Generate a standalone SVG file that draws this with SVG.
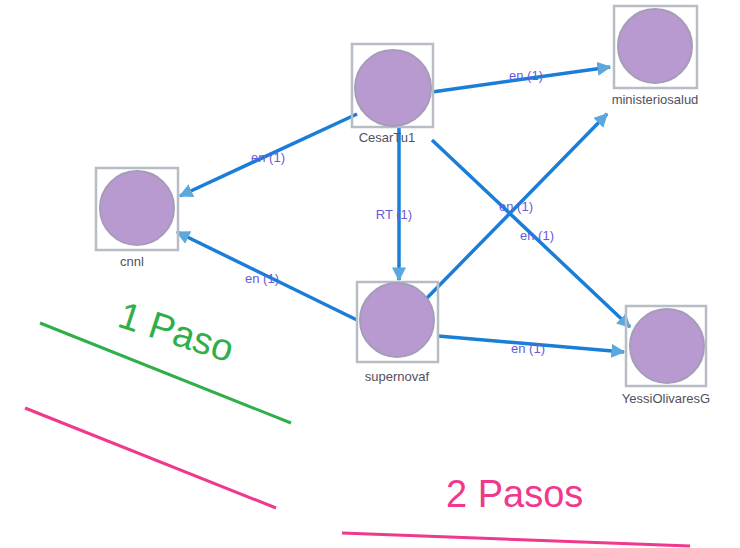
<svg xmlns="http://www.w3.org/2000/svg" width="740" height="548" viewBox="0 0 740 548">
<style>
.box{fill:none;stroke:#b8bcc4;stroke-width:2.5}
.node{fill:#b89ad0;stroke:#a49cb8;stroke-width:2}
.nl{font-family:"Liberation Sans",Arial,sans-serif;font-size:13px;fill:#505060;text-anchor:middle}
.el{font-family:"Liberation Sans",Arial,sans-serif;font-size:13px;fill:#6a5ad8;text-anchor:middle}
.edge{stroke:#1a7ed8;stroke-width:3.5;fill:none;marker-end:url(#arr)}
.big{font-family:"Liberation Sans",Arial,sans-serif;font-size:38px}
</style>
<defs>
<marker id="arr" viewBox="0 0 10 10" refX="9" refY="5" markerWidth="4" markerHeight="4" orient="auto" markerUnits="strokeWidth">
<path d="M0,0 L10,5 L0,10 z" fill="#5aa8dc"/>
</marker>
</defs>
<rect width="740" height="548" fill="#ffffff"/>
<g id="connectors">
<line class="edge" x1="432" y1="92" x2="610" y2="67"/>
<line class="edge" x1="357" y1="114" x2="180" y2="196"/>
<line class="edge" x1="399" y1="127" x2="399" y2="280"/>
<line class="edge" x1="432" y1="140" x2="630" y2="327"/>
<line class="edge" x1="425" y1="300" x2="607" y2="114"/>
<line class="edge" x1="357" y1="320" x2="177" y2="232"/>
<line class="edge" x1="438" y1="336" x2="624" y2="352"/>
<text class="el" x="526" y="80">en (1)</text>
<text class="el" x="268" y="162">en (1)</text>
<text class="el" x="394" y="219">RT (1)</text>
<text class="el" x="516" y="211">en (1)</text>
<text class="el" x="537" y="240">en (1)</text>
<text class="el" x="262" y="283">en (1)</text>
<text class="el" x="528" y="353">en (1)</text>
</g>
<g id="CesarTu1">
<rect class="box" x="352" y="44" width="81" height="83"/>
<circle class="node" cx="393" cy="88" r="38"/>
<text class="nl" x="387" y="142">CesarTu1</text>
</g>
<g id="ministeriosalud">
<rect class="box" x="614" y="6" width="83" height="82"/>
<circle class="node" cx="655" cy="46" r="37"/>
<text class="nl" x="655" y="104">ministeriosalud</text>
</g>
<g id="cnnl">
<rect class="box" x="96" y="168" width="82" height="82"/>
<circle class="node" cx="137" cy="208" r="37"/>
<text class="nl" x="132" y="266">cnnl</text>
</g>
<g id="supernovaf">
<rect class="box" x="357" y="282" width="81" height="80"/>
<circle class="node" cx="397" cy="320" r="37"/>
<text class="nl" x="397" y="381">supernovaf</text>
</g>
<g id="YessiOlivaresG">
<rect class="box" x="626" y="306" width="80" height="80"/>
<circle class="node" cx="667" cy="346" r="37"/>
<text class="nl" x="666" y="403">YessiOlivaresG</text>
</g>
<g id="annotations">
<line x1="40" y1="323" x2="291" y2="423" stroke="#2fae4a" stroke-width="3"/>
<text class="big" fill="#2fae4a" transform="translate(116,326) rotate(18)">1 Paso</text>
<line x1="25" y1="408" x2="276" y2="508" stroke="#f0388c" stroke-width="3"/>
<line x1="342" y1="533" x2="690" y2="546" stroke="#f0388c" stroke-width="3"/>
<text class="big" fill="#f0388c" x="446" y="507">2 Pasos</text>
</g>
</svg>
